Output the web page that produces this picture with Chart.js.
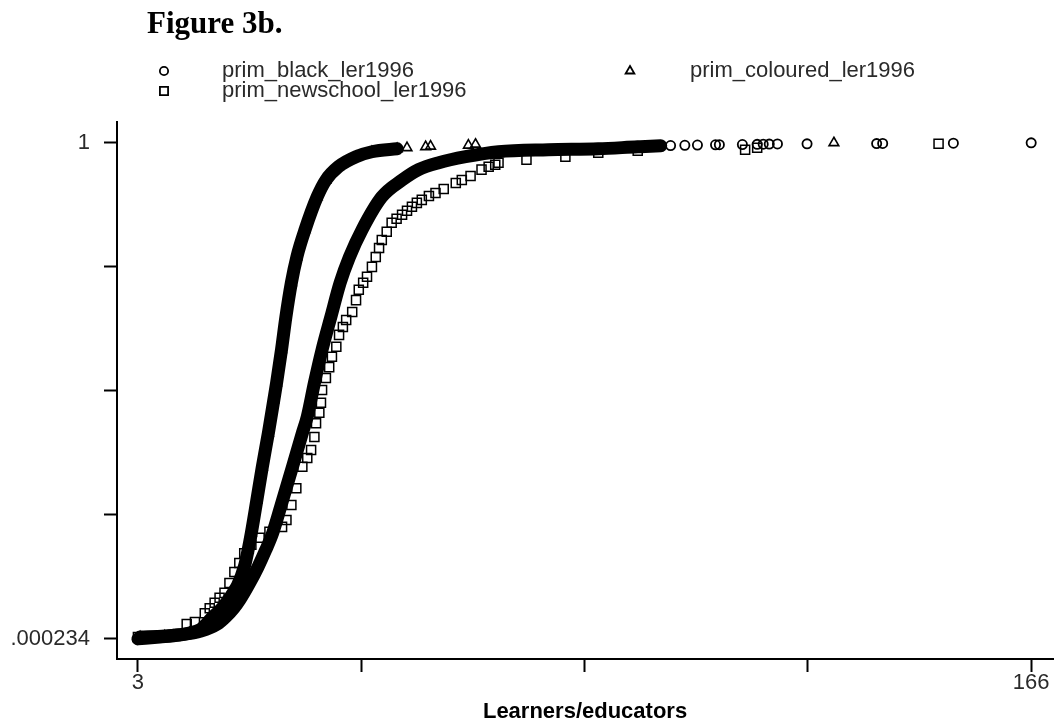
<!DOCTYPE html>
<html>
<head>
<meta charset="utf-8">
<script src="https://cdn.jsdelivr.net/npm/chart.js@4/dist/chart.umd.min.js"></script>
<style>
html,body{margin:0;padding:0;background:#fff;}
#wrap{width:1061px;height:725px;position:relative;}
</style>
</head>
<body>
<div id="wrap"><canvas id="c" width="1061" height="725"></canvas></div>
<script>
// ---- tick values / labels ----
const xTicks = [3, 43.75, 84.5, 125.25, 166];
const xTickLabels = ['3', '', '', '', '166'];
const yTicks = [0.000234, 0.25, 0.5, 0.75, 1];
const yTickLabels = ['.000234', '', '', '', '1'];
const seriesNames = ['prim_black_ler1996', 'prim_coloured_ler1996', 'prim_newschool_ler1996'];
const xTitle = 'Learners/educators';
const figTitle = 'Figure 3b.';

// ---- prim_black_ler1996 (cumulative share vs learners/educators) ----
const blackX = [3.0, 7.0, 10.6, 14.5, 17.5, 19.0, 20.5, 21.6, 23.4, 24.9, 26.3, 27.6, 29.4, 31.2, 33.0, 33.9,
  35.2, 36.6, 38.2, 39.9, 41.6, 43.9, 47.5, 51.2, 54.2, 57.9, 62.8, 68.8, 77.9, 87.0, 94.2, 98.4,
  100.2, 102.8, 105.1, 108.4, 109.1, 113.3, 116.0, 117.1, 118.2, 119.7, 125.1, 137.8, 138.9, 151.8, 166.0];
const blackY = [0.000234, 0.004, 0.008, 0.016, 0.030, 0.044, 0.062, 0.079, 0.113, 0.145, 0.179, 0.214, 0.280, 0.347, 0.415, 0.448,
  0.516, 0.583, 0.649, 0.718, 0.770, 0.825, 0.891, 0.925, 0.946, 0.960, 0.972, 0.982, 0.986, 0.988, 0.992, 0.994,
  0.9945, 0.995, 0.9955, 0.996, 0.9962, 0.9966, 0.997, 0.9972, 0.9975, 0.9978, 0.998, 0.9985, 0.9988, 0.9993, 1.0];
const blackDenseLast = 31;

// ---- prim_coloured_ler1996 ----
const colX = [3.4, 7.9, 12.4, 14.5, 16.6, 18.3, 19.5, 20.4, 21.2, 22.4, 23.1, 23.7, 24.7, 25.7, 26.8, 27.8,
  28.3, 29.2, 30.0, 31.0, 32.0, 33.5, 35.7, 37.3, 39.6, 42.8, 45.7, 50.3,
  52.1, 55.5, 56.4, 63.3, 64.6, 130.0];
const colY = [0.004, 0.006, 0.012, 0.020, 0.044, 0.062, 0.079, 0.094, 0.109, 0.145, 0.179, 0.214, 0.280, 0.347, 0.415, 0.482,
  0.516, 0.583, 0.649, 0.718, 0.770, 0.825, 0.891, 0.925, 0.952, 0.972, 0.982, 0.988,
  0.990, 0.992, 0.993, 0.995, 0.997, 1.0];
const colDenseLast = 27;

// ---- prim_newschool_ler1996 ----
const nsX = [3.0, 7.0, 10.3, 11.9, 13.4, 15.2, 16.1, 17.0, 17.9, 18.8, 19.7, 20.6, 21.5, 22.4, 23.7,
  25.2, 27.0, 29.3, 30.1, 31.0, 31.9, 33.0, 33.9, 34.6, 35.2, 35.5, 36.1, 36.4, 36.6, 37.3,
  37.9, 38.4, 39.2, 39.7, 40.4, 41.0, 42.1, 42.8, 43.3, 44.1, 44.8, 45.7, 46.4, 47.0, 47.5,
  48.4, 49.3, 50.2, 51.2, 52.1, 53.0, 53.9, 54.8, 56.1, 57.3, 58.8, 61.0, 62.1, 63.7, 65.7,
  67.0, 68.2, 68.8, 73.9, 81.0, 87.0, 94.2, 113.8, 116.0, 149.1];
const nsY = [0.004, 0.006, 0.010, 0.030, 0.034, 0.052, 0.062, 0.073, 0.083, 0.093, 0.113, 0.135, 0.153, 0.173, 0.190,
  0.204, 0.216, 0.226, 0.240, 0.270, 0.304, 0.347, 0.365, 0.381, 0.407, 0.435, 0.456, 0.476, 0.502, 0.526,
  0.548, 0.569, 0.589, 0.613, 0.629, 0.643, 0.659, 0.683, 0.704, 0.718, 0.730, 0.750, 0.770, 0.788, 0.804,
  0.821, 0.839, 0.847, 0.855, 0.863, 0.871, 0.879, 0.885, 0.893, 0.899, 0.907, 0.919, 0.925, 0.933, 0.946,
  0.952, 0.956, 0.960, 0.966, 0.972, 0.980, 0.984, 0.986, 0.990, 0.998];

const toPts = (xs, ys) => xs.map((x, i) => ({x: x, y: ys[i]}));
const denseSeg = last => ({
  borderColor: c => (c.p1DataIndex <= last ? '#000' : 'rgba(0,0,0,0)')
});

const TXT = '#2a2a2a';
const SANS = '"Liberation Sans", Arial, Helvetica, sans-serif';

const markers = [
  {style: 'circle', radius: 4.6},
  {style: 'triangle', radius: 5.6},
  {style: 'rect', radius: 6.4}
];

const figPlugin = {
  id: 'figLegend',
  afterDraw(chart) {
    const ctx = chart.ctx;
    ctx.save();
    ctx.fillStyle = '#000';
    ctx.font = 'bold 31px "Liberation Serif", "Times New Roman", serif';
    ctx.textAlign = 'left';
    ctx.textBaseline = 'alphabetic';
    ctx.fillText(figTitle, 147, 33);

    const items = [
      {k: 0, mx: 164, tx: 222, y: 71},
      {k: 1, mx: 630, tx: 690, y: 71},
      {k: 2, mx: 164, tx: 222, y: 91}
    ];
    ctx.font = '22px ' + SANS;
    ctx.textBaseline = 'middle';
    items.forEach(it => {
      const m = markers[it.k];
      ctx.strokeStyle = '#000';
      ctx.fillStyle = 'rgba(0,0,0,0)';
      ctx.lineWidth = 1.8;
      Chart.helpers.drawPoint(ctx, {pointStyle: m.style, radius: m.radius * 0.9, borderWidth: 1.8, rotation: 0}, it.mx, it.y);
      ctx.fillStyle = TXT;
      ctx.fillText(seriesNames[it.k], it.tx, it.y);
    });
    ctx.restore();
  }
};

new Chart(document.getElementById('c'), {
  type: 'scatter',
  data: {
    datasets: [
      {
        label: seriesNames[2],
        data: toPts(nsX, nsY),
        showLine: false,
        pointStyle: markers[2].style,
        pointRadius: markers[2].radius,
        pointBorderWidth: 1.5,
        pointBorderColor: '#000',
        pointBackgroundColor: 'rgba(0,0,0,0)'
      },
      {
        label: seriesNames[1],
        data: toPts(colX, colY),
        showLine: true,
        borderWidth: 13,
        borderColor: '#000',
        borderJoinStyle: 'round',
        borderCapStyle: 'round',
        cubicInterpolationMode: 'monotone',
        segment: denseSeg(colDenseLast),
        pointStyle: markers[1].style,
        pointRadius: markers[1].radius,
        pointBorderWidth: 1.6,
        pointBorderColor: '#000',
        pointBackgroundColor: 'rgba(0,0,0,0)'
      },
      {
        label: seriesNames[0],
        data: toPts(blackX, blackY),
        showLine: true,
        borderWidth: 13,
        borderColor: '#000',
        borderJoinStyle: 'round',
        borderCapStyle: 'round',
        cubicInterpolationMode: 'monotone',
        segment: denseSeg(blackDenseLast),
        pointStyle: markers[0].style,
        pointRadius: markers[0].radius,
        pointBorderWidth: 1.8,
        pointBorderColor: '#000',
        pointBackgroundColor: 'rgba(0,0,0,0)'
      }
    ]
  },
  options: {
    responsive: false,
    animation: false,
    devicePixelRatio: 1,
    layout: {padding: {top: 122, right: 4, bottom: 0, left: 0}},
    plugins: {
      legend: {display: false},
      title: {display: false},
      tooltip: {enabled: false}
    },
    scales: {
      x: {
        type: 'linear',
        min: -0.82,
        max: 170.0,
        afterBuildTicks: s => { s.ticks = xTicks.map(v => ({value: v})); },
        afterFit: s => { s.height = 66; },
        ticks: {
          autoSkip: false,
          maxRotation: 0,
          padding: -2,
          color: TXT,
          font: {family: SANS, size: 22},
          callback: (v, i) => xTickLabels[i]
        },
        grid: {drawOnChartArea: false, drawTicks: true, tickLength: 13, tickWidth: 2, tickColor: '#000'},
        border: {display: true, color: '#000', width: 2},
        title: {
          display: true,
          text: xTitle,
          color: '#000',
          font: {family: SANS, size: 22, weight: 'bold'},
          padding: {top: 0, bottom: 0}
        }
      },
      y: {
        type: 'linear',
        min: -0.0403,
        max: 1.042,
        afterBuildTicks: s => { s.ticks = yTicks.map(v => ({value: v})); },
        afterFit: s => { s.width = 117; },
        ticks: {
          autoSkip: false,
          padding: 14,
          color: TXT,
          font: {family: SANS, size: 22},
          callback: (v, i) => yTickLabels[i]
        },
        grid: {drawOnChartArea: false, drawTicks: true, tickLength: 13, tickWidth: 2, tickColor: '#000'},
        border: {display: true, color: '#000', width: 2}
      }
    }
  },
  plugins: [figPlugin]
});
</script>
</body>
</html>
